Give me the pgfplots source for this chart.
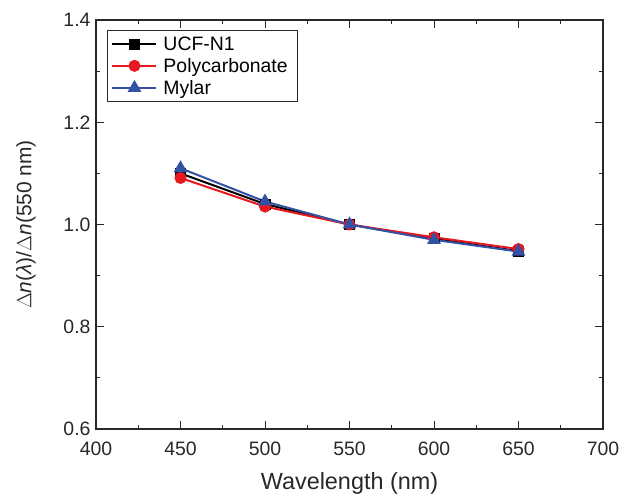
\documentclass[border=0pt]{standalone}
\usepackage{pgfplots}
\pgfplotsset{compat=1.18}
\usepackage{fontspec}
\setmainfont{Liberation Sans}
\usetikzlibrary{calc}
\definecolor{pcred}{RGB}{232,24,32}
\definecolor{myblue}{RGB}{52,82,164}
\definecolor{axgray}{RGB}{40,40,40}
\begin{document}
\begin{tikzpicture}
\begin{axis}[
  scale only axis, width=507bp, height=409bp,
  xmin=400, xmax=700, ymin=0.6, ymax=1.4,
  xtick={400,450,...,700}, ytick={0.6,0.8,...,1.4},
  minor xtick={425,475,...,675}, minor ytick={0.7,0.9,...,1.3},
  yticklabel style={xshift=-2bp, /pgf/number format/.cd,fixed,fixed zerofill,precision=1},
  /pgf/number format/assume math mode=true,
  tick align=inside, major tick length=8bp, minor tick length=4bp,
  axis line style={axgray,line width=1.2bp},
  tick style={axgray,line width=1bp},
  ticklabel style={font=\fontsize{19.5}{21}\selectfont, text=axgray},
  xticklabel style={yshift=-9bp},
  xlabel={Wavelength (nm)},
  ylabel={$\Delta$\textit{n}(\textit{λ})/$\Delta$\textit{n}(550 nm)},
  xlabel style={font=\fontsize{23.5}{26}\selectfont, text=axgray, yshift=-10bp},
  ylabel style={font=\fontsize{21}{24}\selectfont, text=axgray, yshift=21bp},
  legend cell align=left,
  legend style={at={(rel axis cs:0,1)}, anchor=north west, xshift=11bp, yshift=-10bp,
    draw=axgray, line width=1bp, font=\fontsize{19.5}{21}\selectfont,
    row sep=2.5bp, inner sep=4bp,
    nodes={inner xsep=6bp, inner ysep=2bp}},
  legend image code/.code={\draw[#1] (0bp,0bp) -- (22bp,0bp) plot coordinates {(22bp,0bp)} -- (44bp,0bp);},
  every axis plot/.append style={line width=2bp},
]
\addplot[black, mark=square*, mark size=4.5bp] coordinates {(450,1.100) (500,1.040) (550,1.000) (600,0.972) (650,0.948)};
\addlegendentry{UCF-N1}
\addplot[pcred, mark=*, mark size=5bp] coordinates {(450,1.091) (500,1.035) (550,1.000) (600,0.975) (650,0.952)};
\addlegendentry{Polycarbonate}
\addplot[myblue, mark=triangle*, mark size=6bp] coordinates {(450,1.110) (500,1.045) (550,1.000) (600,0.970) (650,0.947)};
\addlegendentry{Mylar}
\end{axis}
\pgfresetboundingbox
\path ($(current axis.south west)+(-96bp,-67bp)$) rectangle ($(current axis.north east)+(26bp,20bp)$);
\end{tikzpicture}
\end{document}
